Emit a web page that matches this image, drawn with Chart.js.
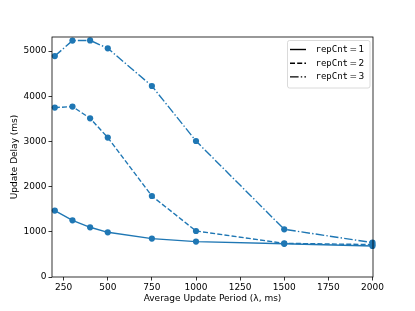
<!DOCTYPE html>
<html>
<head>
<meta charset="utf-8">
<script src="https://cdn.jsdelivr.net/npm/chart.js@4/dist/chart.umd.min.js"></script>
<style>
    html, body { margin: 0; padding: 0; background: #fff; }
    #wrap { width: 415px; height: 311px; }
</style>
</head>
<body>
<div id="wrap"><canvas id="chart"></canvas></div>
<script>
    /*Data*/
    var periods = [200, 300, 400, 500, 750, 1000, 1500, 2000];
    var repCnt1 = [1469, 1254, 1100, 989, 850, 783, 735, 686];
    var repCnt2 = [3748, 3770, 3511, 3084, 1792, 1018, 745, 717];
    var repCnt3 = [4889, 5230, 5235, 5060, 4226, 3009, 1055, 761];
    var seriesNames = ['repCnt', 'repCnt', 'repCnt'];
    var seriesIds = ['1', '2', '3'];
    var xTicks = [250, 500, 750, 1000, 1250, 1500, 1750, 2000];
    var yTicks = [0, 1000, 2000, 3000, 4000, 5000];

    var blue = '#1f77b4';
    var dashes = [[], [5, 2.2], [8.6, 2.2, 1.4, 2.2]];

    /*Build {x,y} points*/
    var toPoints = function(values){
        return values.map(function(v, i){ return {x: periods[i], y: v}; });
    };

    var makeDataset = function(label, values, dash){
        return {
            label: label,
            data: toPoints(values),
            borderColor: blue,
            backgroundColor: blue,
            borderWidth: 1.4,
            borderDash: dash,
            pointRadius: 3.1,
            pointBorderWidth: 0,
            pointBackgroundColor: blue,
            tension: 0,
            clip: false
        };
    };

    /*Frame + legend like matplotlib*/
    var framePlugin = {
        id: 'frame',
        afterDraw: function(chart){
            var ctx = chart.ctx;
            var a = chart.chartArea;
            ctx.save();
            ctx.strokeStyle = '#000';
            ctx.lineWidth = 0.8;
            ctx.setLineDash([]);
            ctx.strokeRect(a.left, a.top, a.right - a.left, a.bottom - a.top);

            /*Legend box*/
            var bx = 287.5, by = 40.5, bw = 82.5, bh = 47.5;
            ctx.fillStyle = 'rgba(255,255,255,0.8)';
            ctx.strokeStyle = '#d0d0d0';
            ctx.lineWidth = 0.8;
            ctx.beginPath();
            ctx.roundRect(bx, by, bw, bh, 2);
            ctx.fill();
            ctx.stroke();

            chart.data.datasets.forEach(function(ds, i){
                var y = 49.5 + i * 13.7;
                ctx.strokeStyle = '#000';
                ctx.lineWidth = 1.4;
                ctx.setLineDash(dashes[i]);
                ctx.beginPath();
                ctx.moveTo(290, y);
                ctx.lineTo(306, y);
                ctx.stroke();
                ctx.setLineDash([]);

                ctx.fillStyle = '#000';
                ctx.textBaseline = 'middle';
                ctx.textAlign = 'left';
                ctx.font = '9px "DejaVu Sans Mono"';
                ctx.fillText(seriesNames[i], 315.5, y);
                ctx.font = '9px "DejaVu Sans"';
                ctx.fillText('=', 349.5, y);
                ctx.fillText(seriesIds[i], 358.5, y);
            });
            ctx.restore();
        }
    };

    var axisFont = {family: '"DejaVu Sans"', size: 9};
    var plainLabel = function(value){ return String(value); };

    new Chart(document.getElementById('chart'), {
        type: 'line',
        data: {
            datasets: [
                makeDataset('repCnt = 1', repCnt1, dashes[0]),
                makeDataset('repCnt = 2', repCnt2, dashes[1]),
                makeDataset('repCnt = 3', repCnt3, dashes[2])
            ]
        },
        options: {
            responsive: true,
            maintainAspectRatio: false,
            animation: false,
            layout: {padding: {left: 0, right: 42, top: 37, bottom: 0}},
            plugins: {
                legend: {display: false},
                tooltip: {enabled: false}
            },
            scales: {
                x: {
                    type: 'linear',
                    min: 184,
                    max: 2003,
                    afterBuildTicks: function(scale){
                        scale.ticks = xTicks.map(function(v){ return {value: v}; });
                    },
                    afterFit: function(scale){ scale.height = 34; },
                    grid: {drawOnChartArea: false, drawTicks: true, tickLength: 3.5, color: '#000', lineWidth: 0.8},
                    border: {display: false},
                    ticks: {color: '#000', font: axisFont, padding: 1.5, maxRotation: 0, callback: plainLabel},
                    title: {
                        display: true,
                        text: 'Average Update Period (λ, ms)',
                        color: '#000',
                        font: axisFont,
                        padding: {top: 0, bottom: 7}
                    }
                },
                y: {
                    type: 'linear',
                    min: 0,
                    max: 5310,
                    afterBuildTicks: function(scale){
                        scale.ticks = yTicks.map(function(v){ return {value: v}; });
                    },
                    afterFit: function(scale){ scale.width = 52; },
                    grid: {drawOnChartArea: false, drawTicks: true, tickLength: 3.5, color: '#000', lineWidth: 0.8},
                    border: {display: false},
                    ticks: {color: '#000', font: axisFont, padding: 2, callback: plainLabel},
                    title: {
                        display: true,
                        text: 'Update Delay (ms)',
                        color: '#000',
                        font: axisFont,
                        padding: {top: 9, bottom: 0}
                    }
                }
            }
        },
        plugins: [framePlugin]
    });
</script>
</body>
</html>
